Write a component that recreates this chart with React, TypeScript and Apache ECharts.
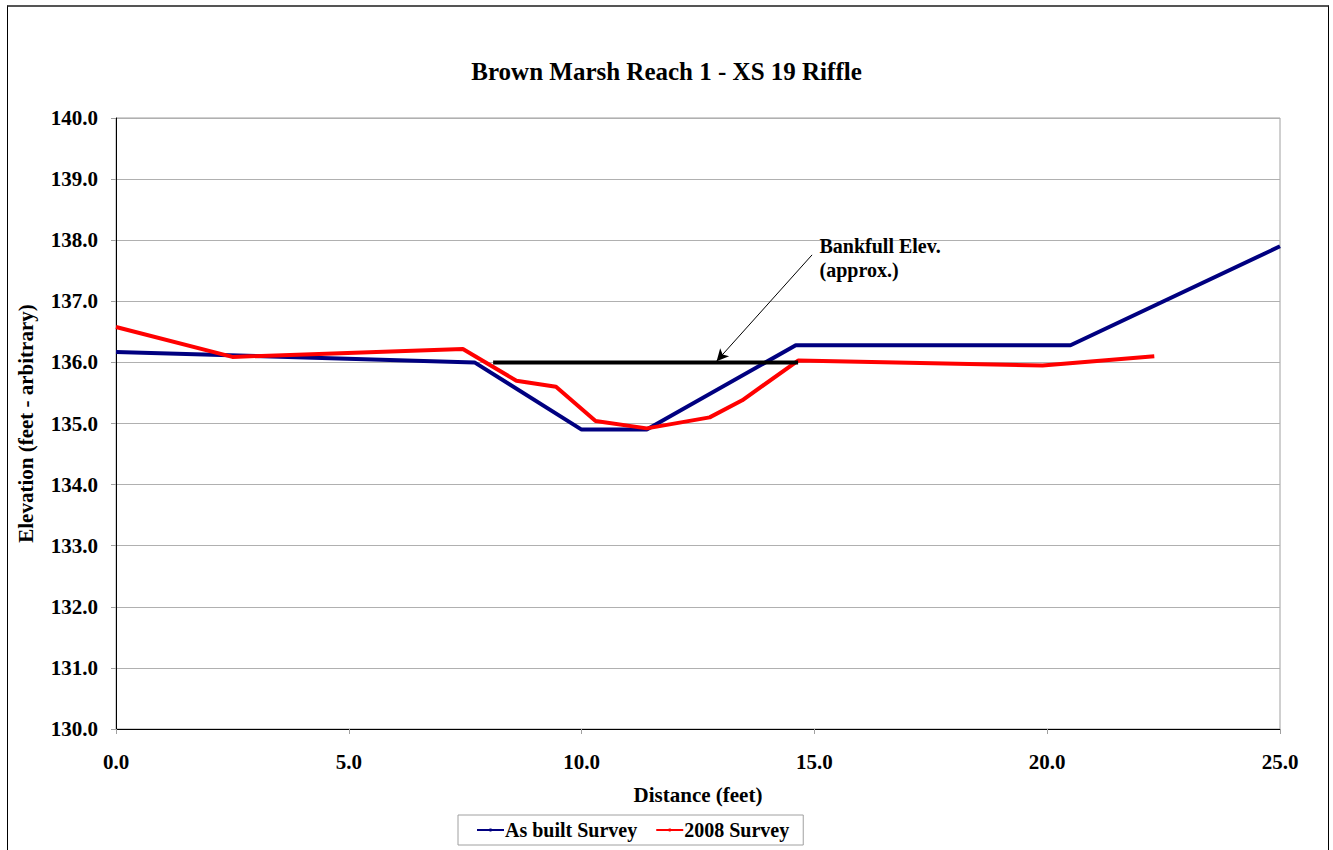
import React, { useEffect, useRef } from "react";
import * as echarts from "echarts";

const titleText = "Brown Marsh Reach 1 - XS 19 Riffle";
const xAxisName = "Distance (feet)";
const yAxisName = "Elevation (feet - arbitrary)";

const asBuiltDistance = [0, 7.7, 10.0, 11.4, 14.6, 20.5, 25.0];
const asBuiltElevation = [136.17, 136.0, 134.9, 134.9, 136.28, 136.28, 137.9];

const survey2008Distance = [0, 2.5, 7.45, 8.6, 9.45, 10.3, 11.4, 12.75, 13.45, 14.65, 19.9, 22.3];
const survey2008Elevation = [136.58, 136.09, 136.22, 135.7, 135.6, 135.04, 134.92, 135.1, 135.38, 136.03, 135.95, 136.1];

const bankfullDistance = [8.1, 14.65];
const bankfullElevation = [136.0, 136.0];

const arrowStart = [14.95, 137.76];
const arrowEnd = [12.9, 136.02];
const noteAnchor = [15.12, 138.1];
const noteText = "Bankfull Elev.\n(approx.)";

const seriesNames = ["As built Survey", "2008 Survey"];

const FONT = "'Liberation Serif', 'Times New Roman', serif";

function zip(xs: number[], ys: number[]) {
  return xs.map((x, i) => [x, ys[i]]);
}

export default function App() {
  const ref = useRef<HTMLDivElement>(null);
  useEffect(() => {
    if (!ref.current) return;
    const chart = echarts.init(ref.current, null, { renderer: "svg" });
    chart.setOption({
      animation: false,
      backgroundColor: "#ffffff",
      textStyle: { fontFamily: FONT },
      title: {
        text: titleText,
        left: "center",
        top: 54,
        textStyle: { fontFamily: FONT, fontSize: 25, fontWeight: "bold", color: "#000" },
      },
      grid: {
        left: 116,
        top: 118,
        right: 53,
        bottom: 121,
        show: true,
        borderColor: "#a0a0a0",
        borderWidth: 1,
      },
      legend: {
        left: 458,
        top: 815,
        data: seriesNames,
        orient: "horizontal",
        borderColor: "#a0a0a0",
        borderWidth: 1,
        padding: [5, 14, 5, 18],
        itemGap: 18,
        itemWidth: 27,
        itemHeight: 4,
        textStyle: { fontFamily: FONT, fontSize: 20, fontWeight: "bold", color: "#000", padding: [0, 0, 0, -4] },
      },
      xAxis: {
        type: "value",
        min: 0,
        max: 25,
        interval: 5,
        name: xAxisName,
        nameLocation: "middle",
        nameGap: 55,
        nameTextStyle: { fontFamily: FONT, fontSize: 21, fontWeight: "bold", color: "#000" },
        axisLine: { show: true, onZero: false, lineStyle: { color: "#000", width: 1 } },
        axisTick: { show: true, inside: false, length: 5, lineStyle: { color: "#a0a0a0" } },
        splitLine: { show: false },
        axisLabel: {
          margin: 22,
          fontFamily: FONT,
          fontSize: 21,
          fontWeight: "bold",
          color: "#000",
          formatter: (v: number) => v.toFixed(1),
        },
      },
      yAxis: {
        type: "value",
        min: 130,
        max: 140,
        interval: 1,
        name: yAxisName,
        nameLocation: "middle",
        nameGap: 80,
        nameTextStyle: { fontFamily: FONT, fontSize: 21, fontWeight: "bold", color: "#000" },
        axisLine: { show: true, onZero: false, lineStyle: { color: "#000", width: 1 } },
        axisTick: { show: true, inside: false, length: 5, lineStyle: { color: "#a0a0a0" } },
        splitLine: { show: true, lineStyle: { color: "#b0b0b0", width: 1 } },
        axisLabel: {
          margin: 18,
          fontFamily: FONT,
          fontSize: 21,
          fontWeight: "bold",
          color: "#000",
          formatter: (v: number) => v.toFixed(1),
        },
      },
      series: [
        {
          name: seriesNames[0],
          type: "line",
          data: zip(asBuiltDistance, asBuiltElevation),
          symbol: "none",
          lineStyle: { color: "#000080", width: 4 },
          itemStyle: { color: "#000080" },
          z: 3,
        },
        {
          name: seriesNames[1],
          type: "line",
          data: zip(survey2008Distance, survey2008Elevation),
          symbol: "none",
          lineStyle: { color: "#ff0000", width: 4 },
          itemStyle: { color: "#ff0000" },
          z: 4,
        },
        {
          name: "Bankfull",
          type: "line",
          data: zip(bankfullDistance, bankfullElevation),
          symbol: "none",
          lineStyle: { color: "#000000", width: 4 },
          itemStyle: { color: "#000000" },
          z: 5,
          markLine: {
            silent: true,
            symbol: ["none", "arrow"],
            symbolSize: [9, 12],
            label: { show: false },
            lineStyle: { color: "#000", width: 1, type: "solid" },
            data: [[{ coord: arrowStart }, { coord: arrowEnd }]],
          },
          markPoint: {
            silent: true,
            symbol: "circle",
            symbolSize: 1,
            itemStyle: { color: "rgba(0,0,0,0)" },
            label: {
              show: true,
              position: [0, 0],
              align: "left",
              verticalAlign: "top",
              formatter: noteText,
              fontFamily: FONT,
              fontSize: 20,
              fontWeight: "bold",
              lineHeight: 24,
              color: "#000",
            },
            data: [{ coord: noteAnchor }],
          },
        },
      ],
    });
    return () => chart.dispose();
  }, []);

  return (
    <div style={{ position: "absolute", left: 0, top: 0, width: 1333, height: 850, overflow: "hidden", background: "#fff" }}>
      <div ref={ref} style={{ position: "absolute", left: 0, top: 0, width: 1333, height: 850 }} />
      <div
        style={{
          position: "absolute",
          left: 7,
          top: 5,
          width: 1322,
          height: 900,
          borderLeft: "1px solid #000",
          borderRight: "1px solid #000",
          borderTop: "2px solid #555",
          pointerEvents: "none",
          boxSizing: "border-box",
        }}
      />
    </div>
  );
}
